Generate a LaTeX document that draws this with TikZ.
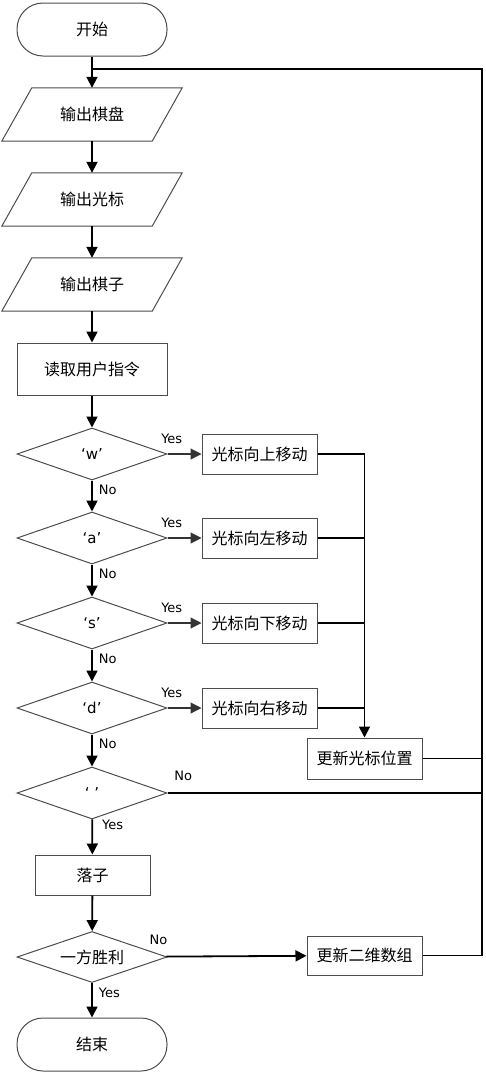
\documentclass[tikz,border=0pt]{standalone}
\usepackage{fontspec}
\setmainfont{DejaVu Sans}
\newfontfamily\cjk{Noto Sans CJK SC}
\usetikzlibrary{shapes.geometric,arrows.meta}

\tikzset{
	terminal/.style={draw=black!70, line width=1pt, rounded corners=26pt, minimum width=150pt, minimum height=53pt, font=\cjk\fontsize{16}{16}\selectfont},
	io/.style={rectangle, minimum width=150pt, minimum height=53pt, font=\cjk\fontsize{16}{16}\selectfont},
	outline/.style={draw=black!70, line width=1pt},
	process/.style={rectangle, draw=black!70, line width=1pt, minimum width=150pt, minimum height=52pt, font=\cjk\fontsize{16}{16}\selectfont},
	decision/.style={diamond, aspect=2.9, draw=black!70, line width=1pt, minimum width=150pt, minimum height=52pt, inner sep=0pt, font=\fontsize{15}{15}\selectfont},
	move/.style={rectangle, draw=black!70, line width=1pt, minimum width=115pt, minimum height=40pt, font=\cjk\fontsize{16}{16}\selectfont},
	conn/.style={line width=1.8pt, black},
	yes/.style={line width=1.1pt, black!80},
	lbl/.style={font=\fontsize{13}{13}\selectfont, inner sep=0pt, text=black}
}

\begin{document}
\begin{tikzpicture}[x=1pt, y=-1pt, >={Triangle[length=11pt,width=11pt]}]
		\useasboundingbox (0,0) rectangle (485,1074);
		
		\node[terminal] (start) at (92,29.5) {开始};
		\node[io] (board) at (92,114.5) {输出棋盘};
		\node[io] (cursor) at (92,199.5) {输出光标};
		\node[io] (pieces) at (92,284.5) {输出棋子};
		\node[process] (read) at (92,369) {读取用户指令};
		\node[decision] (keyw) at (92,454) {‘w’};
		\node[decision] (keya) at (92,538) {‘a’};
		\node[decision] (keys) at (92,623) {‘s’};
		\node[decision] (keyd) at (92,708) {‘d’};
		\node[decision] (keysp) at (92,793) {‘ ’};
		\node[process, minimum width=115pt, minimum height=40pt] (drop) at (92.5,875) {落子};
		\node[decision, minimum height=51pt] (win) at (92,957) {\cjk\fontsize{16}{16}\selectfont 一方胜利};
		\node[terminal] (stop) at (92,1044.5) {结束};
		
		\draw[outline] ([xshift=-15pt]board.south west) -- ([xshift=15pt]board.north west) -- ([xshift=15pt]board.north east) -- ([xshift=-15pt]board.south east) -- cycle;
		\draw[outline] ([xshift=-15pt]cursor.south west) -- ([xshift=15pt]cursor.north west) -- ([xshift=15pt]cursor.north east) -- ([xshift=-15pt]cursor.south east) -- cycle;
		\draw[outline] ([xshift=-15pt]pieces.south west) -- ([xshift=15pt]pieces.north west) -- ([xshift=15pt]pieces.north east) -- ([xshift=-15pt]pieces.south east) -- cycle;
		
		\node[move] (up) at (259.5,454) {光标向上移动};
		\node[move] (left) at (259.5,538) {光标向左移动};
		\node[move] (down) at (259.5,623) {光标向下移动};
		\node[move] (right) at (259.5,708) {光标向右移动};
		\node[move, minimum height=41pt] (updcur) at (364.5,758.5) {更新光标位置};
		\node[move, minimum height=39pt] (updarr) at (364.5,955.5) {更新二维数组};
		
		\coordinate (loopr) at (482,69);
		\coordinate (loopl) at (92,69);
		
		\draw[conn, ->] (start) -- (board);
		\draw[conn, ->] (board) -- (cursor);
		\draw[conn, ->] (cursor) -- (pieces);
		\draw[conn, ->] (pieces) -- (read);
		\draw[conn, ->] (read) -- (keyw);
		\draw[conn, ->] (keyw) -- node[lbl, pos=0.3, anchor=west, xshift=6pt] {No} (keya);
		\draw[conn, ->] (keya) -- node[lbl, pos=0.3, anchor=west, xshift=6pt] {No} (keys);
		\draw[conn, ->] (keys) -- node[lbl, pos=0.3, anchor=west, xshift=6pt] {No} (keyd);
		\draw[conn, ->] (keyd) -- node[lbl, pos=0.3, anchor=west, xshift=6pt] {No} (keysp);
		\draw[conn, ->] (keysp) -- node[lbl, pos=0.15, anchor=west, xshift=9pt] {Yes} (drop);
		\draw[conn, ->] (drop) -- (win);
		\draw[conn, ->] (win) -- node[lbl, pos=0.28, anchor=west, xshift=6pt] {Yes} (stop);
		
		\draw[yes, ->] (keyw) -- node[lbl, pos=0.125, anchor=south, yshift=10pt] {Yes} (up);
		\draw[yes, ->] (keya) -- node[lbl, pos=0.125, anchor=south, yshift=10pt] {Yes} (left);
		\draw[yes, ->] (keys) -- node[lbl, pos=0.125, anchor=south, yshift=10pt] {Yes} (down);
		\draw[yes, ->] (keyd) -- node[lbl, pos=0.125, anchor=south, yshift=10pt] {Yes} (right);
		
		\draw[conn, ->] (up.east) -| (updcur.north);
		\draw[conn] (left.east) -- (left.east -| updcur.north);
		\draw[conn] (down.east) -- (down.east -| updcur.north);
		\draw[conn] (right.east) -- (right.east -| updcur.north);
		
		\draw[conn] (updcur.east) -- (updcur.east -| loopr);
		\draw[conn] (keysp) -- node[lbl, pos=0.05, anchor=south, yshift=11pt] {No} (keysp -| loopr);
		\draw[conn, ->] (win) -- node[lbl, pos=0, anchor=south east, xshift=2pt, yshift=11pt] {No} (updarr);
		\draw[conn] (updarr.east) -| (loopr) -- (loopl);
	\end{tikzpicture}
\end{document}
